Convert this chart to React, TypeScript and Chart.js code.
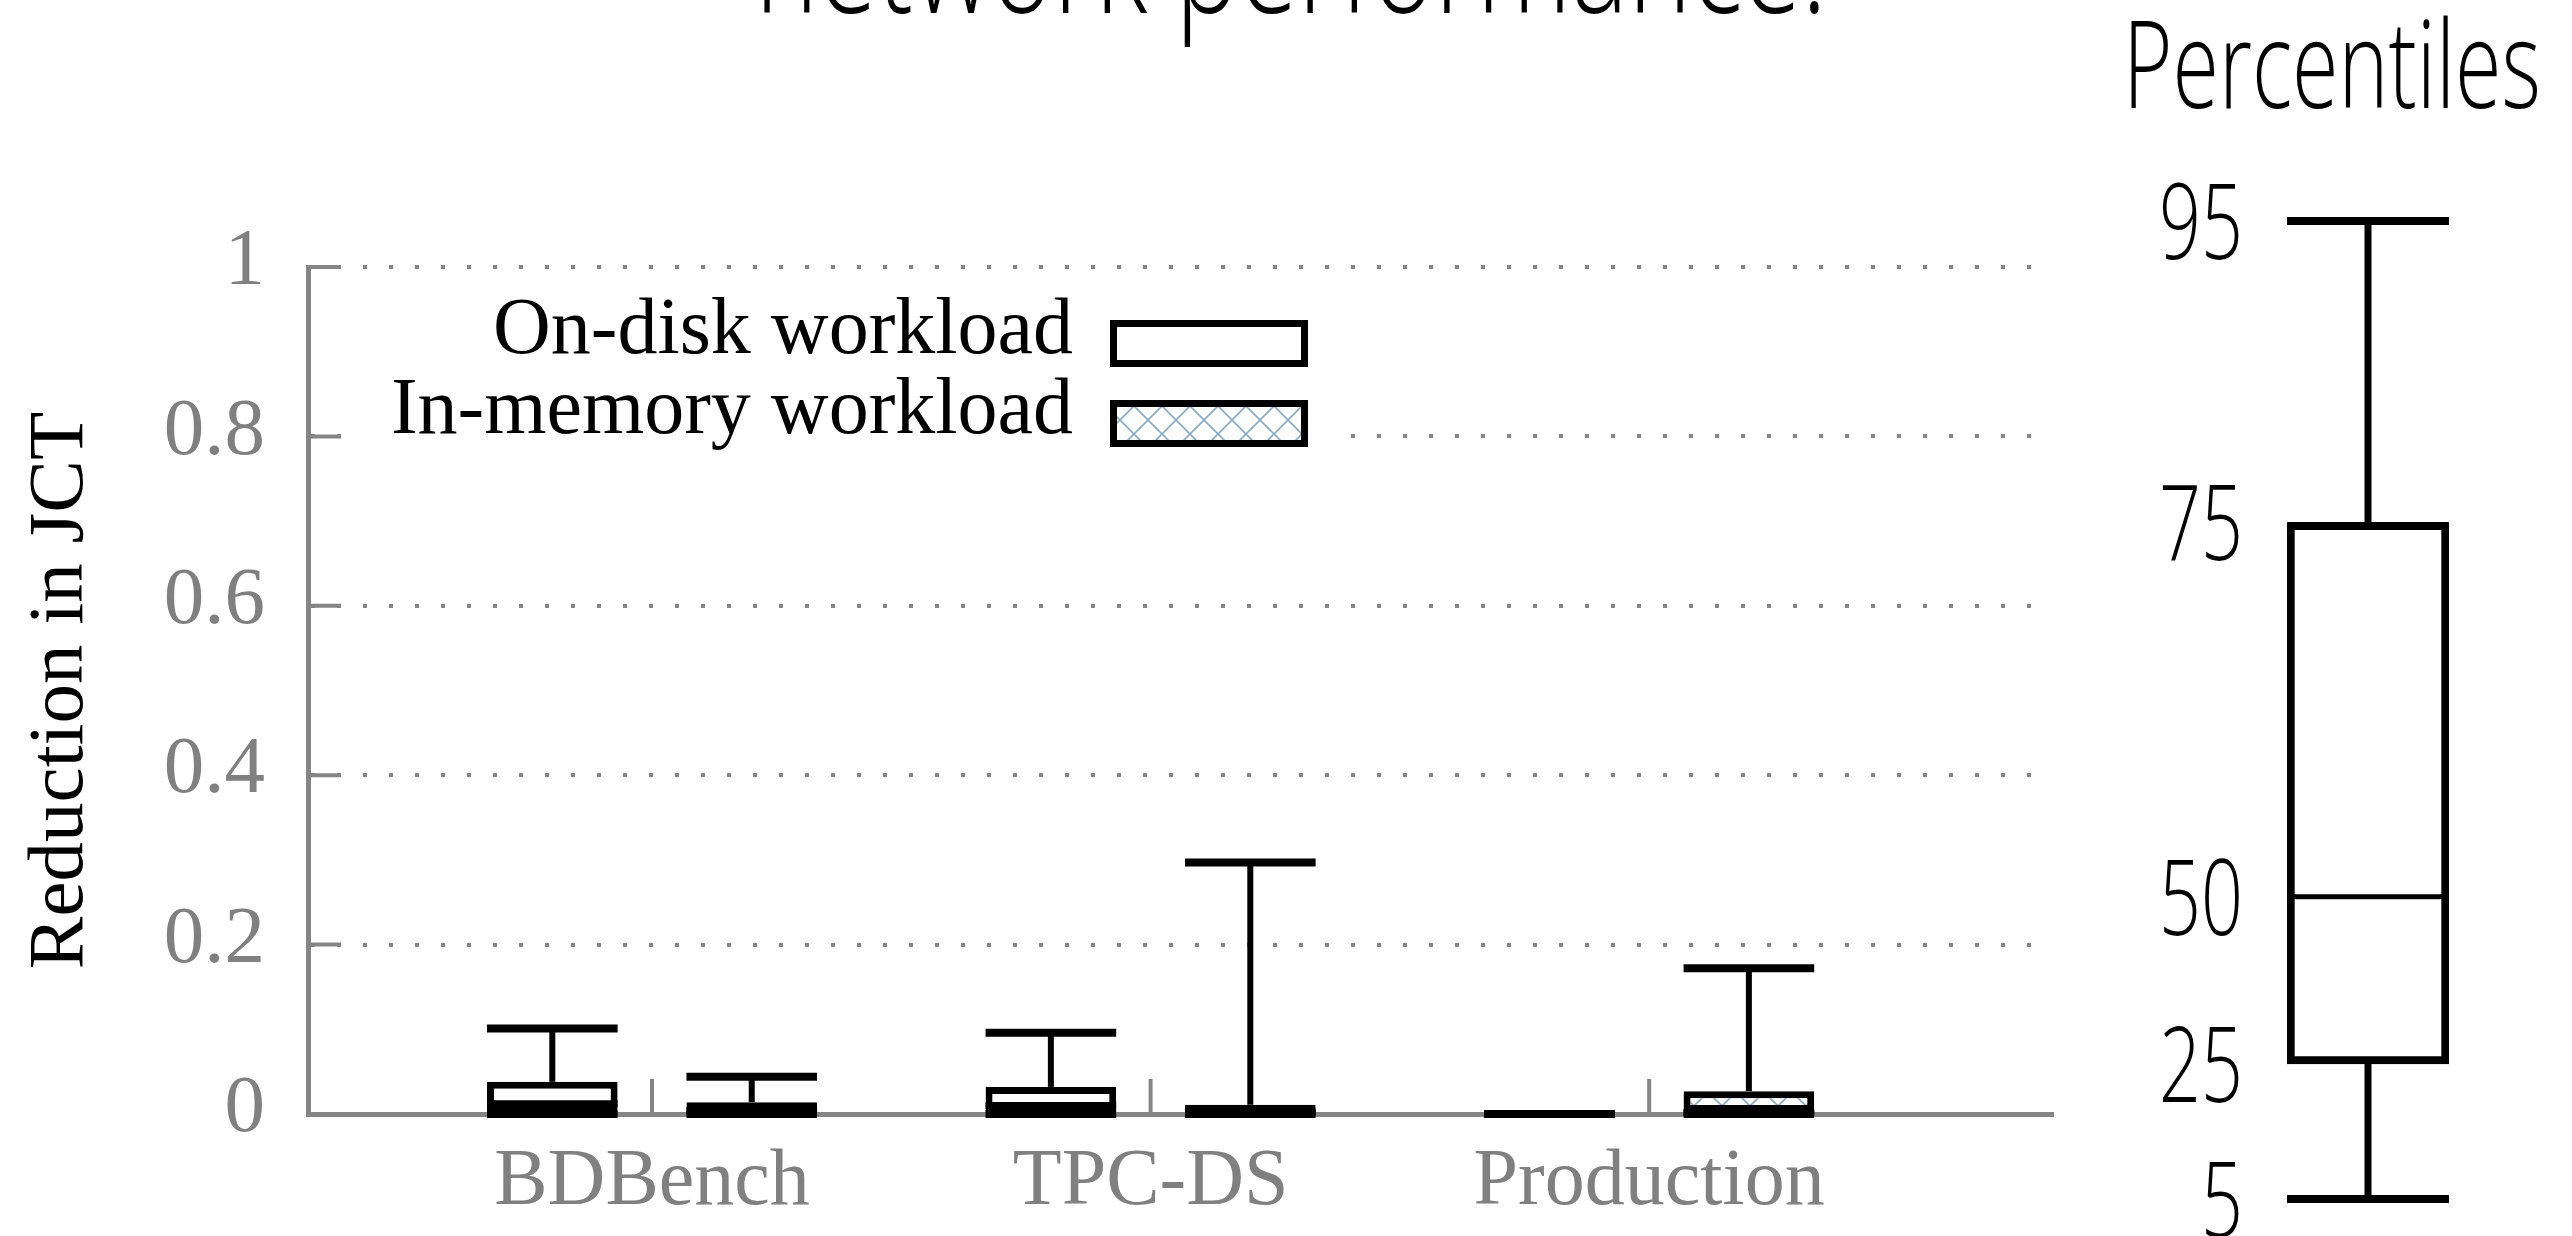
import React, { useEffect, useRef } from 'react';
import { Chart, registerables } from 'chart.js';

Chart.register(...registerables);

// ---------------- data ----------------
const categories = ['BDBench', 'TPC-DS', 'Production'];
const seriesLabels = ['On-disk workload', 'In-memory workload'];

// percentiles of the reduction in JCT (5th, 25th, 50th, 75th, 95th)
const onDiskP5 = [0, 0, 0];
const onDiskP25 = [0, 0, 0];
const onDiskP50 = [0.012, 0.01, 0];
const onDiskP75 = [0.038, 0.032, 0];
const onDiskP95 = [0.101, 0.096, 0];

const inMemoryP5 = [0, 0, 0];
const inMemoryP25 = [0, 0, 0];
const inMemoryP50 = [0.004, 0.003, 0.002];
const inMemoryP75 = [0.014, 0.011, 0.027];
const inMemoryP95 = [0.044, 0.297, 0.172];

const yTickValues = [0, 0.2, 0.4, 0.6, 0.8, 1];

// schematic percentile key (right side)
const keyTitle = 'Percentiles';
const keyLabels = ['5', '25', '50', '75', '95'];
const keyLevels = [0, 0.138, 0.309, 0.692, 1];

const pageTitle = 'network performance.';
const yAxisTitle = 'Reduction in JCT';

// ---------------- styles ----------------
const PAGE_W = 2572;
const PAGE_H = 1236;
const GRAY_LINE = '#858585';
const GRAY_TEXT = '#808080';
const SERIF = '"Liberation Serif", "Times New Roman", serif';
const SANS = '"Open Sans", "Noto Sans", sans-serif';

function makeHatch(): CanvasPattern | string {
  const c = document.createElement('canvas');
  const s = 28;
  c.width = s;
  c.height = s;
  const g = c.getContext('2d');
  if (!g) return '#dfeaf3';
  g.fillStyle = '#ffffff';
  g.fillRect(0, 0, s, s);
  g.strokeStyle = '#86abc8';
  g.lineWidth = 1.6;
  g.beginPath();
  g.moveTo(0, 0);
  g.lineTo(s, s);
  g.moveTo(s, 0);
  g.lineTo(0, s);
  g.stroke();
  return g.createPattern(c, 'repeat') || '#dfeaf3';
}

function seg(ctx: CanvasRenderingContext2D, x1: number, y1: number, x2: number, y2: number) {
  ctx.beginPath();
  ctx.moveTo(x1, y1);
  ctx.lineTo(x2, y2);
  ctx.stroke();
}

function drawSqueezed(
  ctx: CanvasRenderingContext2D,
  text: string,
  x: number,
  y: number,
  sx: number,
  align: CanvasTextAlign
) {
  ctx.save();
  ctx.translate(x, y);
  ctx.scale(sx, 1);
  ctx.textAlign = align;
  ctx.textBaseline = 'alphabetic';
  ctx.fillText(text, 0, 0);
  ctx.restore();
}

const stats = [
  { p5: onDiskP5, p25: onDiskP25, p50: onDiskP50, p75: onDiskP75, p95: onDiskP95 },
  { p5: inMemoryP5, p25: inMemoryP25, p50: inMemoryP50, p75: inMemoryP75, p95: inMemoryP95 },
];

export default function App() {
  const mainRef = useRef<HTMLCanvasElement | null>(null);
  const keyRef = useRef<HTMLCanvasElement | null>(null);

  useEffect(() => {
    document.body.style.margin = '0';
    if (!mainRef.current || !keyRef.current) return;
    const hatch = makeHatch();
    const fills: (string | CanvasPattern)[] = ['#ffffff', hatch];

    const tickPlugin = {
      id: 'inwardTicks',
      beforeDatasetsDraw(chart: any) {
        const { ctx, chartArea: a, scales } = chart;
        const x = scales.x;
        const y = scales.y;
        ctx.save();
        ctx.strokeStyle = GRAY_LINE;
        ctx.lineWidth = 4;
        y.ticks.forEach((t: any) => {
          const py = y.getPixelForValue(t.value);
          seg(ctx, a.left, py, a.left + 33, py);
        });
        x.ticks.forEach((t: any) => {
          const px = x.getPixelForValue(t.value);
          seg(ctx, px, a.bottom, px, a.bottom - 35);
        });
        ctx.restore();
      },
    };

    const whiskerPlugin = {
      id: 'whiskers',
      afterDatasetsDraw(chart: any) {
        const { ctx } = chart;
        const y = chart.scales.y;
        const py = (v: number) => y.getPixelForValue(v);
        chart.data.datasets.forEach((_: any, di: number) => {
          const meta = chart.getDatasetMeta(di);
          const s = stats[di];
          meta.data.forEach((el: any, j: number) => {
            const x = el.x;
            const half = el.width / 2;
            ctx.save();
            ctx.strokeStyle = '#000';
            ctx.lineCap = 'butt';
            ctx.lineWidth = 6;
            seg(ctx, x, py(s.p75[j]), x, py(s.p95[j]));
            seg(ctx, x, py(s.p25[j]), x, py(s.p5[j]));
            ctx.lineWidth = 8;
            seg(ctx, x - half, py(s.p95[j]), x + half, py(s.p95[j]));
            seg(ctx, x - half, py(s.p5[j]), x + half, py(s.p5[j]));
            ctx.lineWidth = 7;
            seg(ctx, x - half, py(s.p50[j]), x + half, py(s.p50[j]));
            ctx.restore();
          });
        });
      },
    };

    const legendPlugin = {
      id: 'customLegend',
      afterDraw(chart: any) {
        const { ctx } = chart;
        ctx.save();
        ctx.fillStyle = '#ffffff';
        ctx.fillRect(344, 292, 1335 - 344, 468 - 292);
        const baselines = [353, 433];
        const boxTops = [320, 400];
        chart.data.datasets.forEach((ds: any, i: number) => {
          ctx.fillStyle = '#000';
          ctx.font = `80px ${SERIF}`;
          ctx.textAlign = 'right';
          ctx.textBaseline = 'alphabetic';
          ctx.fillText(ds.label, 1073, baselines[i]);
          const bx = 1110;
          const bw = 198;
          const by = boxTops[i];
          const bh = 47;
          ctx.fillStyle = ds.backgroundColor;
          ctx.fillRect(bx, by, bw, bh);
          ctx.strokeStyle = '#000';
          ctx.lineWidth = 7;
          ctx.strokeRect(bx + 3.5, by + 3.5, bw - 7, bh - 7);
        });
        // slide title (cut off at the top of the screenshot)
        ctx.fillStyle = '#000';
        ctx.font = `300 145px ${SANS}`;
        const sx = 1072 / ctx.measureText(pageTitle).width;
        drawSqueezed(ctx, pageTitle, 1291, 13, sx, 'center');
        ctx.restore();
      },
    };

    const mainChart = new Chart(mainRef.current, {
      type: 'bar',
      data: {
        datasets: stats.map((s, i) => ({
          label: seriesLabels[i],
          data: categories.map((_, j) => ({ x: j, y: [s.p25[j], s.p75[j]] })),
          backgroundColor: fills[i],
          borderColor: '#000000',
          borderWidth: 7,
          borderSkipped: false,
          categoryPercentage: 0.8,
          barPercentage: 0.655,
        })) as any,
      },
      options: {
        responsive: false,
        animation: false,
        devicePixelRatio: 1,
        events: [],
        layout: { padding: { left: 0, top: 267, right: PAGE_W - 2053, bottom: 0 } },
        plugins: {
          legend: { display: false },
          tooltip: { enabled: false },
          title: { display: false },
        },
        scales: {
          x: {
            type: 'linear',
            offset: false,
            min: -0.69,
            max: 2.81,
            afterBuildTicks: (scale: any) => {
              scale.ticks = categories.map((_, i) => ({ value: i }));
            },
            afterFit: (scale: any) => {
              scale.height = PAGE_H - 1114;
            },
            grid: { display: false, drawTicks: false, offset: false },
            border: { display: true, color: GRAY_LINE, width: 5 },
            ticks: {
              color: GRAY_TEXT,
              font: { family: SERIF, size: 80 },
              padding: 21,
              maxRotation: 0,
              autoSkip: false,
              callback: (v: any) => categories[v as number] ?? '',
            },
          },
          y: {
            type: 'linear',
            min: 0,
            max: 1,
            afterBuildTicks: (scale: any) => {
              scale.ticks = yTickValues.map((v) => ({ value: v }));
            },
            afterFit: (scale: any) => {
              scale.width = 308;
            },
            grid: { color: GRAY_LINE, lineWidth: 4, drawTicks: false },
            border: { display: true, color: GRAY_LINE, width: 5, dash: [4, 22] },
            ticks: {
              color: GRAY_TEXT,
              font: { family: SERIF, size: 81 },
              padding: 43,
              labelOffset: -4,
              callback: (v: any) => String(v),
            },
            title: {
              display: true,
              text: yAxisTitle,
              color: '#000000',
              font: { family: SERIF, size: 79 },
              padding: { top: 14, bottom: 0 },
            },
          },
        },
      } as any,
      plugins: [tickPlugin, whiskerPlugin, legendPlugin],
    });

    const keyPlugin = {
      id: 'percentileKey',
      afterDatasetsDraw(chart: any) {
        const { ctx, chartArea: a } = chart;
        const y = chart.scales.y;
        const py = (v: number) => y.getPixelForValue(v);
        const el = chart.getDatasetMeta(0).data[0] as any;
        const x = el.x;
        const half = el.width / 2;
        ctx.save();
        ctx.strokeStyle = '#000';
        ctx.lineCap = 'butt';
        ctx.lineWidth = 7;
        seg(ctx, x, py(keyLevels[3]), x, py(keyLevels[4]));
        seg(ctx, x, py(keyLevels[1]), x, py(keyLevels[0]));
        ctx.lineWidth = 8;
        seg(ctx, x - half, py(keyLevels[4]), x + half, py(keyLevels[4]));
        seg(ctx, x - half, py(keyLevels[0]), x + half, py(keyLevels[0]));
        ctx.lineWidth = 5;
        seg(ctx, x - half + 4, py(keyLevels[2]), x + half - 4, py(keyLevels[2]));

        ctx.fillStyle = '#000';
        ctx.font = `300 122px ${SANS}`;
        const sx = 418 / ctx.measureText(keyTitle).width;
        drawSqueezed(ctx, keyTitle, a.right + 92, 108, sx, 'right');
        ctx.font = `300 106px ${SANS}`;
        keyLabels.forEach((lab, i) => {
          drawSqueezed(ctx, lab, a.left - 44, py(keyLevels[i]) + 38, sx, 'right');
        });
        ctx.restore();
      },
    };

    const keyChart = new Chart(keyRef.current, {
      type: 'bar',
      data: {
        labels: [keyTitle],
        datasets: [
          {
            data: [[keyLevels[1], keyLevels[3]]] as any,
            backgroundColor: '#ffffff',
            borderColor: '#000000',
            borderWidth: 8,
            borderSkipped: false,
            categoryPercentage: 1,
            barPercentage: 1,
          },
        ],
      },
      options: {
        responsive: false,
        animation: false,
        devicePixelRatio: 1,
        events: [],
        layout: { padding: { left: 2287, right: PAGE_W - 2449, top: 221, bottom: PAGE_H - 1199 } },
        plugins: { legend: { display: false }, tooltip: { enabled: false } },
        scales: {
          x: { display: false },
          y: { display: false, min: 0, max: 1 },
        },
      } as any,
      plugins: [keyPlugin],
    });

    return () => {
      mainChart.destroy();
      keyChart.destroy();
    };
  }, []);

  return (
    <div style={{ position: 'relative', width: PAGE_W, height: PAGE_H, background: '#ffffff', overflow: 'hidden' }}>
      <canvas
        ref={mainRef}
        width={PAGE_W}
        height={PAGE_H}
        style={{ position: 'absolute', left: 0, top: 0, width: PAGE_W, height: PAGE_H }}
      />
      <canvas
        ref={keyRef}
        width={PAGE_W}
        height={PAGE_H}
        style={{ position: 'absolute', left: 0, top: 0, width: PAGE_W, height: PAGE_H }}
      />
    </div>
  );
}
